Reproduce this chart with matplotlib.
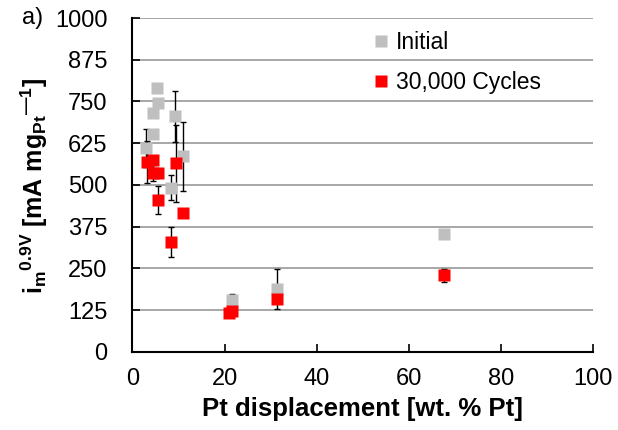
import numpy as np
import matplotlib
matplotlib.use("Agg")
import matplotlib.pyplot as plt

plt.rcParams["font.family"] = ["Liberation Sans", "DejaVu Sans"]
plt.rcParams["mathtext.fontset"] = "custom"
plt.rcParams["mathtext.rm"] = "Liberation Sans"
plt.rcParams["mathtext.bf"] = "Liberation Sans:bold"
plt.rcParams["mathtext.it"] = "Liberation Sans:italic"

CINZA = "#BFBFBF"
VERMELHO = "#FF0000"

# Initial activity vs Pt displacement
x_inicial = [5.4, 5.6, 4.5, 9.3, 4.5, 2.9, 11.0, 8.3, 21.7, 31.4, 67.7]
y_inicial = [789, 744, 714, 706, 654, 612, 586, 492, 155, 187, 353]
e_inicial = [0, 0, 0, 76, 0, 57, 103, 38, 18, 60, 0]

# after 30,000 cycles
x_ciclos = [3.1, 4.5, 9.4, 4.5, 5.6, 5.5, 11.0, 8.3, 21.0, 21.7, 31.4, 67.7]
y_ciclos = [569, 574, 565, 536, 536, 455, 415, 330, 115, 123, 157, 229]
e_ciclos = [64, 0, 115, 23, 0, 41, 0, 45, 0, 0, 0, 20]

y_ticks = [0, 125, 250, 375, 500, 625, 750, 875, 1000]
x_ticks = [0, 20, 40, 60, 80, 100]

fig = plt.figure(figsize=(6.18, 4.30), dpi=100)
ax = fig.add_axes([0.2144, 0.182, 0.7451, 0.776])


def barras(x, y, e):
    x, y, e = map(np.asarray, (x, y, e))
    sel = e > 0
    ax.errorbar(x[sel], y[sel], yerr=e[sel], fmt="none", ecolor="black",
                elinewidth=1, capsize=2.5, capthick=1, zorder=2)


barras(x_inicial, y_inicial, e_inicial)
barras(x_ciclos, y_ciclos, e_ciclos)
ax.plot(x_inicial, y_inicial, "s", ms=9.2, color=CINZA, mec="none",
        label="Initial", zorder=3)
ax.plot(x_ciclos, y_ciclos, "s", ms=9.2, color=VERMELHO, mec="none",
        label="30,000 Cycles", zorder=4)

ax.set_xlim(0, 100)
ax.set_ylim(0, 1000)
ax.set_xticks(x_ticks)
ax.set_yticks(y_ticks)
ax.grid(axis="y", color="#A0A0A0", lw=1.3, zorder=0)
ax.set_axisbelow(True)
ax.tick_params(axis="x", direction="in", length=6, width=1.2,
               labelsize=17, color="black", pad=12)
ax.tick_params(axis="y", direction="in", length=6, width=1.2,
               labelsize=17, color="black", pad=18)
for lado in ("top", "right"):
    ax.spines[lado].set_visible(False)
for lado in ("left", "bottom"):
    ax.spines[lado].set_linewidth(1.5)

ax.set_xlabel("Pt displacement [wt. % Pt]", fontsize=18.5, fontweight="bold")
ax.xaxis.set_label_coords(0.5, -0.135)

# indices lado a lado (sub e depois sup), como no rotulo original
rotulo_y = (r"$\mathbf{i_m{}^{0.9V}\ [mA\ mg_{Pt}{}^{" + "\u2014"
            + r"1}]}$")
ax.set_ylabel(rotulo_y, fontsize=18)
ax.yaxis.set_label_coords(-0.18, 0.497)

fig.text(0.035, 0.958, "a)", fontsize=17, va="center")

ax.legend(loc="upper left", bbox_to_anchor=(0.505, 0.99), frameon=False,
          fontsize=16.5, handlelength=0.6, handletextpad=0.35,
          labelspacing=0.75, borderaxespad=0)

fig.savefig("out.png", dpi=100)
